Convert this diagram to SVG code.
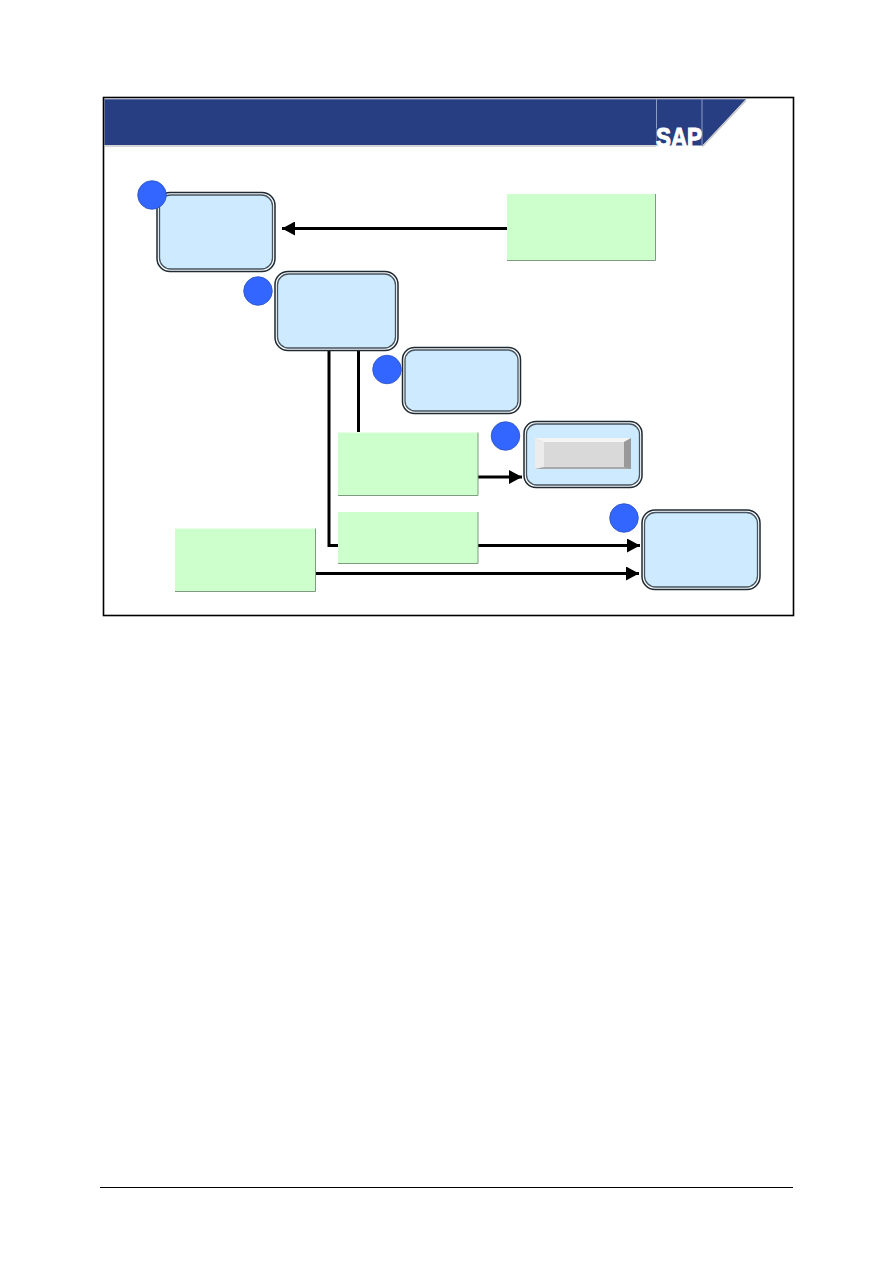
<svg xmlns="http://www.w3.org/2000/svg" width="893" height="1263" viewBox="0 0 893 1263">
  <style>
    .step rect.outer { fill: #fff; stroke: #1f2a33; stroke-width: 1.5; }
    .step rect.inner { fill: #cdeaff; stroke: #46545f; stroke-width: 1.3; }
    .note { fill: #cdffcd; stroke: none; }
    .noteEdge { fill: none; stroke: #7f9a7f; stroke-width: 1; }
    .badge { fill: #3366ff; stroke: #2a50c0; stroke-width: 0.8; }
    .wire { fill: none; stroke: #000; stroke-width: 3; }
    .rule { stroke: #000; fill: none; }
  </style>
  <defs>
    <marker id="head" markerUnits="userSpaceOnUse" markerWidth="14" markerHeight="14" refX="13" refY="7" orient="auto">
      <path d="M0,0 L13,7 L0,14 Z" fill="#000"/>
    </marker>
  </defs>
  <rect width="893" height="1263" fill="#fff"/>

  <!-- Title band with the logo tab -->
  <g id="banner">
    <rect x="104.500" y="99" width="552" height="46" fill="#273f82"/>
    <path d="M656.500,99 H746 L702.500,145.500 H656.500 Z" fill="#273f82"/>
    <path d="M105,146 H656 M702.500,146.500 L746,100.500" stroke="#c8c8c8" stroke-width="1.500" fill="none"/>
    <path d="M105,99.500 H745" stroke="#5a6fa8" stroke-width="1" fill="none"/>
    <path d="M656.500,99 V128 M702,99 V146" stroke="#8c9ac4" stroke-width="1" fill="none"/>
    <text x="656" y="146.500" font-family="'Liberation Sans', Arial, sans-serif" font-size="28" font-weight="700" fill="#fff" stroke="#fff" stroke-width="1.200" textLength="46" lengthAdjust="spacingAndGlyphs">SAP</text>
  </g>
  <rect id="frame" x="103.500" y="97.500" width="690" height="518" class="rule" stroke-width="1.600"/>

  <g id="connectors">
    <path class="wire" d="M507,228.500 H282" marker-end="url(#head)"/>
    <path class="wire" d="M329,350 V545.500 H338"/>
    <path class="wire" d="M358.500,350 V432"/>
    <path class="wire" d="M478,477 H522" marker-end="url(#head)"/>
    <path class="wire" d="M478,545.500 H640" marker-end="url(#head)"/>
    <path class="wire" d="M315,573.500 H639" marker-end="url(#head)"/>
  </g>

  <g id="step-1" class="step">
    <rect class="outer" x="157" y="192.500" width="118" height="79" rx="13"/>
    <rect class="inner" x="159.500" y="195" width="113" height="74" rx="11"/>
    <circle class="badge" cx="152" cy="195" r="14.300"/>
  </g>
  <g id="step-2" class="step">
    <rect class="outer" x="275" y="271.500" width="123" height="79" rx="13"/>
    <rect class="inner" x="277.500" y="274" width="118" height="74" rx="11"/>
    <circle class="badge" cx="258" cy="291" r="14.300"/>
  </g>
  <g id="step-3" class="step">
    <rect class="outer" x="402.500" y="347.500" width="118" height="66" rx="12"/>
    <rect class="inner" x="405" y="350" width="113" height="61" rx="10"/>
    <circle class="badge" cx="387" cy="369.500" r="14.300"/>
  </g>
  <g id="step-4" class="step">
    <rect class="outer" x="524" y="421.500" width="118" height="66" rx="12"/>
    <rect class="inner" x="526.500" y="424" width="113" height="61" rx="10"/>
    <circle class="badge" cx="505.500" cy="436" r="14.300"/>
    <rect x="535" y="438" width="96" height="31" fill="#d9d9d9"/>
    <path d="M535,438 H631 L624,442 H544 Z" fill="#f4f4f4"/>
    <path d="M535,438 L544,442 V467 L535,469 Z" fill="#ececec"/>
    <path d="M631,438 V469 H624 V442 Z" fill="#999"/>
    <path d="M535,469 H631 L624,467 H544 Z" fill="#a8a8a8"/>
  </g>
  <g id="step-5" class="step">
    <rect class="outer" x="642" y="510" width="118" height="79.500" rx="13"/>
    <rect class="inner" x="644.500" y="512.500" width="113" height="74.500" rx="11"/>
    <circle class="badge" cx="624" cy="518" r="14.300"/>
  </g>

  <g id="note-top">
    <rect class="note" x="507" y="194" width="148.500" height="66.500"/>
    <path class="noteEdge" d="M655.500,194 V260.500 H507"/>
  </g>
  <g id="note-middle">
    <rect class="note" x="338" y="432.500" width="140" height="63"/>
    <path class="noteEdge" d="M478,432.500 V495.500 H338"/>
  </g>
  <g id="note-lower">
    <rect class="note" x="338" y="512" width="140" height="51.500"/>
    <path class="noteEdge" d="M478,512 V563.500 H338"/>
  </g>
  <g id="note-left">
    <rect class="note" x="175" y="528.500" width="140.500" height="63"/>
    <path class="noteEdge" d="M315.500,528.500 V591.500 H175"/>
  </g>

  <rect id="footer-rule" x="100" y="1187" width="693" height="1" fill="#000"/>
</svg>
